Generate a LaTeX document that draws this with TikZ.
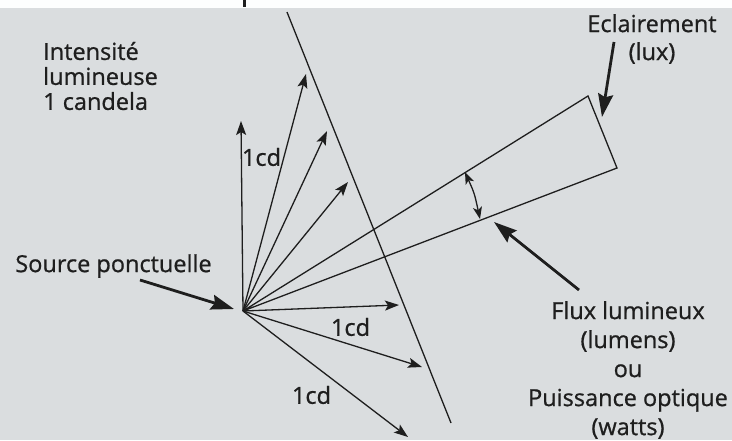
\documentclass[tikz,border=0pt]{standalone}
\usepackage{fontspec}
\setmainfont[FakeBold=0.8]{Open Sans}
\usetikzlibrary{arrows.meta}
\definecolor{bggray}{HTML}{DADDDF}
\definecolor{ink}{HTML}{1E1E1E}
\begin{document}
\begin{tikzpicture}[x=1pt,y=-1pt,
  lbl/.style={font=\fontsize{23.5}{25}\selectfont, text=ink, inner sep=0pt},
  ray/.style={draw=ink, line width=1.3pt, -{Stealth[length=14pt,width=10pt,inset=3pt]}},
  thin/.style={draw=ink, line width=1.3pt},
  pointer/.style={draw=ink, line width=2.8pt, -{Stealth[length=23pt,width=15pt,inset=3pt]}}]
\useasboundingbox (0,0) rectangle (732,440);
\fill[white!96!bggray] (0,0) rectangle (732,8);
\fill[bggray] (0,8) rectangle (732,440);
\draw[ink, line width=3pt] (244,0) -- (244,7);
% points
\coordinate (S) at (243,311);
\coordinate (r1) at (241,121);
\coordinate (r2) at (306,74);
\coordinate (r3) at (327,131);
\coordinate (r4) at (348,182);
\coordinate (r5) at (399,305);
\coordinate (r6) at (422,367);
\coordinate (r7) at (408,437);
\coordinate (surfA) at (287,12);
\coordinate (surfB) at (451,423);
\coordinate (wA) at (588,96);
\coordinate (wB) at (617,168);
\coordinate (dA) at (465,172);
\coordinate (dB) at (480,219);
% surface
\draw[thin] (surfA) -- (surfB);
% wedge
\draw[thin] (S) -- (wA) -- (wB) -- cycle;
% rays
\foreach \r in {r1,r2,r3,r4,r5,r6,r7} \draw[ray] (S) -- (\r);
% angle double arrow
\draw[draw=ink, line width=1.3pt, {Stealth[length=12pt,width=9pt,inset=3pt]}-{Stealth[length=12pt,width=9pt,inset=3pt]}] (dA) .. controls (474.5,193.5) .. (dB);
% texts
\node[lbl, align=left, anchor=west] (intens) at (43,76) {Intensité\\lumineuse\\1 candela};
\node[lbl] (source) at (113.5,266) {Source ponctuelle};
\node[lbl, align=center, font=\fontsize{23.5}{28}\selectfont] (ecl) at (652,39) {Eclairement\\(lux)};
\node[lbl, align=center, font=\fontsize{23.5}{29}\selectfont] (flux) at (628,370) {Flux lumineux\\(lumens)\\ou\\Puissance optique\\(watts)};
\node[lbl] (cd1) at (261.5,157) {1cd};
\node[lbl] (cd2) at (350.5,327) {1cd};
\node[lbl] (cd3) at (311.5,395) {1cd};
% pointers
\coordinate (srcStart) at (140,280);
\coordinate (srcTip) at (234,309);
\coordinate (eclStart) at (614,42);
\coordinate (eclTip) at (602,117);
\coordinate (fluxStart) at (579,290);
\coordinate (fluxTip) at (494,222);
\draw[pointer] (srcStart) -- (srcTip);
\draw[pointer] (eclStart) -- (eclTip);
\draw[pointer] (fluxStart) -- (fluxTip);
\end{tikzpicture}
\end{document}
